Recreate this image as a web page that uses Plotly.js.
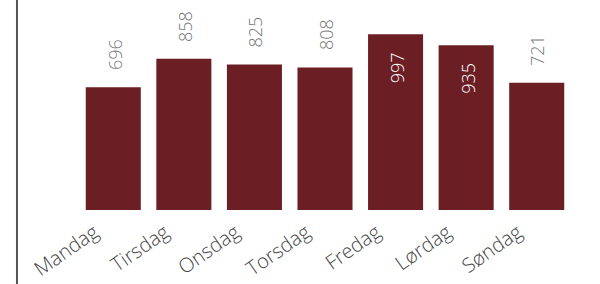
<!DOCTYPE html>
<html>
<head>
<meta charset="utf-8">
<script src="https://cdn.plot.ly/plotly-3.0.1.min.js"></script>
<style>
html,body{margin:0;padding:0;background:#fff;}
#chart{width:600px;height:284px;}
</style>
</head>
<body>
<div id="chart"></div>
<script>
const days = ["Mandag","Tirsdag","Onsdag","Torsdag","Fredag","Lørdag","Søndag"];
const counts = [696, 858, 825, 808, 997, 935, 721];
const insideLabels = [false, false, false, false, true, true, false];

const barColor = "#6b1f25";
const fontFam = "'Open Sans', 'Noto Sans', sans-serif";

const annotations = days.map((d, i) => {
  const inside = insideLabels[i];
  return {
    x: d, y: counts[i], xref: "x", yref: "y",
    text: String(counts[i]),
    showarrow: false,
    textangle: -90,
    xanchor: "center",
    yanchor: inside ? "top" : "bottom",
    yshift: inside ? -16 : 15,
    xshift: 1,
    font: {family: fontFam, size: 18, color: inside ? "#ffffff" : "#777777", weight: 300}
  };
});

const data = [{
  type: "bar",
  x: days,
  y: counts,
  marker: {color: barColor},
  hoverinfo: "skip"
}];

const layout = {
  width: 600, height: 284,
  margin: {l: 78, r: 28, t: 0, b: 74},
  paper_bgcolor: "#ffffff",
  plot_bgcolor: "#ffffff",
  bargap: 0.22,
  showlegend: false,
  xaxis: {
    type: "category",
    range: [-0.5, 6.5],
    tickangle: -35,
    ticklabelshift: -19,
    ticklabelstandoff: 6,
    showgrid: false, zeroline: false, showline: false,
    ticks: "",
    tickfont: {family: fontFam, size: 20, color: "#444444", weight: 300}
  },
  yaxis: {
    range: [0, 1191],
    visible: false,
    showgrid: false, zeroline: false
  },
  annotations: annotations,
  shapes: [{
    type: "line", xref: "paper", yref: "paper",
    x0: -0.1235, x1: -0.1235, y0: -0.5, y1: 1.5,
    line: {color: "#555555", width: 2}
  }]
};

Plotly.newPlot("chart", data, layout, {displayModeBar: false, staticPlot: true});
</script>
</body>
</html>
